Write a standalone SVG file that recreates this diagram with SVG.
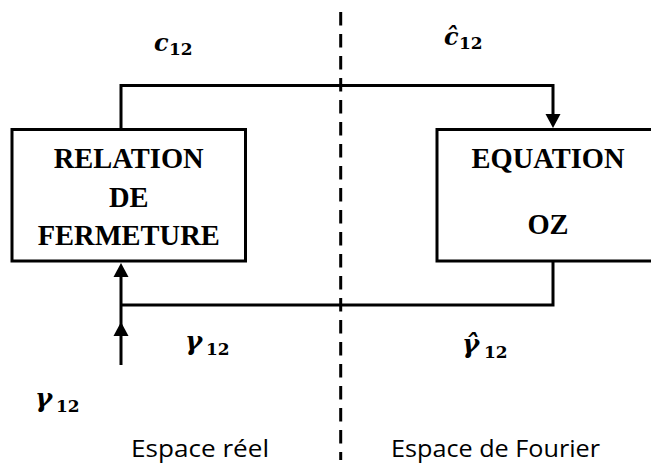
<svg xmlns="http://www.w3.org/2000/svg" width="651" height="470" viewBox="0 0 651 470">
<style>
.box{fill:#fff;stroke:#000;stroke-width:3}
.lbl{font-family:"Liberation Serif","Times New Roman",serif;font-weight:bold;font-size:28.5px;text-anchor:middle;fill:#000}
.conn{fill:none;stroke:#000;stroke-width:3;stroke-linejoin:miter}
.dash{fill:none;stroke:#000;stroke-width:3;stroke-dasharray:13.5 8.5}
.m{font-family:"DejaVu Serif",serif;font-weight:bold;font-style:italic;font-size:24px;fill:#000}
.g{font-size:26px}
.s{font-family:"DejaVu Serif",serif;font-weight:bold;font-style:normal;font-size:17px}
.cap{font-family:"Open Sans","Liberation Sans",sans-serif;font-size:24px;fill:#000}
</style>
<defs>
<marker id="ah" markerUnits="userSpaceOnUse" markerWidth="14" markerHeight="15" refX="0" refY="7.5" orient="auto" overflow="visible">
<path d="M0,0 L14,7.5 L0,15 Z" fill="#000"/>
</marker>
</defs>
<rect width="651" height="470" fill="#fff"/>
<line class="dash" x1="340.7" y1="12" x2="340.7" y2="460"/>
<g id="node-relation">
<rect class="box" x="12" y="129.5" width="233.5" height="131.5"/>
<text class="lbl" x="128.7" y="167.5">RELATION</text>
<text class="lbl" x="128.7" y="207">DE</text>
<text class="lbl" x="128.7" y="244.5">FERMETURE</text>
</g>
<g id="node-equation">
<rect class="box" x="437" y="129.5" width="226" height="131.5"/>
<text class="lbl" x="548" y="167.5">EQUATION</text>
<text class="lbl" x="548" y="234">OZ</text>
</g>
<g id="connectors">
<path class="conn" d="M121,129.5 V85.5 H553 V114" marker-end="url(#ah)"/>
<path class="conn" d="M553,261 V305 H121"/>
<path class="conn" d="M121,365 V336" marker-end="url(#ah)"/>
<path class="conn" d="M121,336 V277" marker-end="url(#ah)"/>
</g>
<g id="labels">
<text class="m" x="154" y="51">c<tspan class="s" x="169" y="55">12</tspan></text>
<text class="m" x="444" y="45">ĉ<tspan class="s" x="459" y="49">12</tspan></text>
<text class="m g" x="185" y="350">γ<tspan class="s" x="206" y="355">12</tspan></text>
<text class="m g" x="462" y="353">γ̂<tspan class="s" x="484" y="358">12</tspan></text>
<text class="m g" x="35" y="407">γ<tspan class="s" x="56" y="412">12</tspan></text>
<text class="cap" x="131" y="457" textLength="138" lengthAdjust="spacingAndGlyphs">Espace  réel</text>
<text class="cap" x="391" y="457" textLength="209" lengthAdjust="spacingAndGlyphs">Espace de Fourier</text>
</g>
</svg>
